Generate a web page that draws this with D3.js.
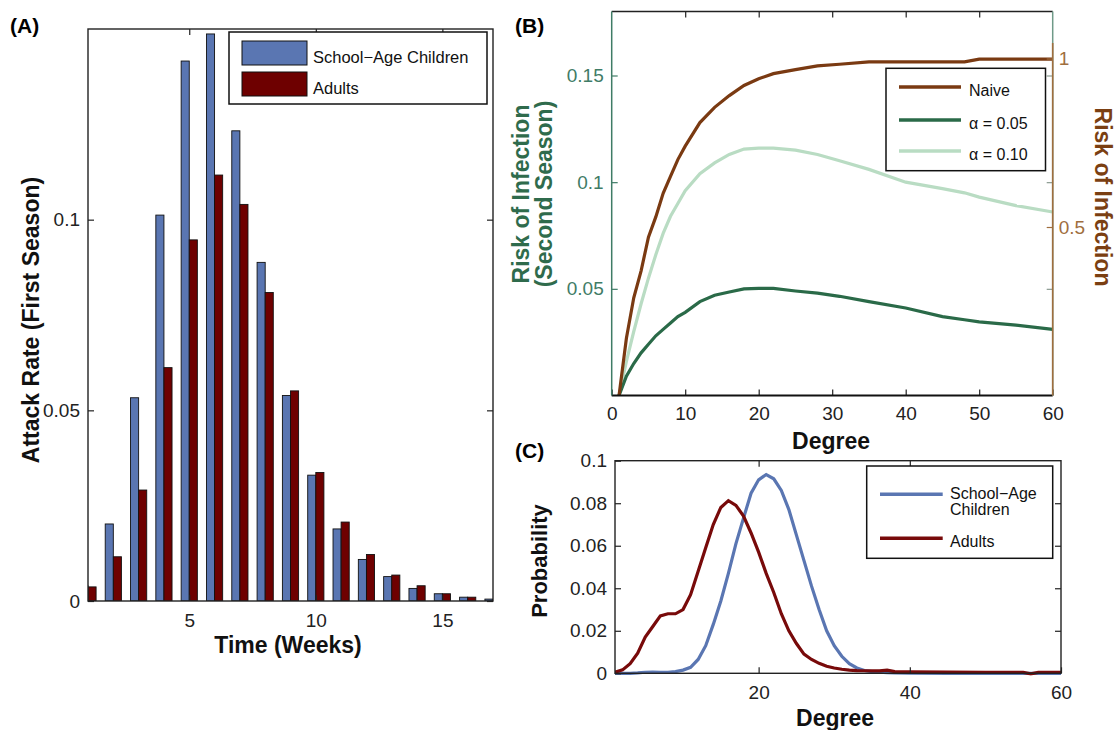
<!DOCTYPE html>
<html>
<head>
<meta charset="utf-8">
<script src="https://cdn.jsdelivr.net/npm/d3@7"></script>
<style>
  body { margin: 0; background: #fff; }
  svg { font-family: "Liberation Sans", Arial, sans-serif; }
</style>
</head>
<body>
<svg id="fig" width="1118" height="730"></svg>
<script>
// ---- data
// (A) weekly attack rate, first season
var weeks = [1, 2, 3, 4, 5, 6, 7, 8, 9, 10, 11, 12, 13, 14, 15, 16, 17];
var childRate = [0.004, 0.0202, 0.0533, 0.1012, 0.1416, 0.1487, 0.1233, 0.0888, 0.0539, 0.0330, 0.0189, 0.0109, 0.0064, 0.0033, 0.0019, 0.0010, 0.0005];
var adultRate = [0.0037, 0.0116, 0.0291, 0.0612, 0.0947, 0.1117, 0.1040, 0.0809, 0.0551, 0.0337, 0.0207, 0.0122, 0.0068, 0.0040, 0.0019, 0.0010, 0.0004];
var seriesA = ["School\u2212Age Children", "Adults"];

// (B) risk of infection vs degree
var degreeB = [1, 2, 3, 4, 5, 6, 7, 8, 9, 10, 12, 14, 16, 18, 20, 22, 25, 28, 31, 35, 40, 45, 48, 50, 55, 60];
var naiveRisk = [0, 0.17, 0.29, 0.37, 0.47, 0.53, 0.60, 0.65, 0.70, 0.74, 0.81, 0.855, 0.89, 0.92, 0.94, 0.955, 0.967, 0.978, 0.983, 0.99, 0.99, 0.99, 0.99, 0.998, 0.998, 0.998];
var alpha05Risk = [0, 0.009, 0.015, 0.020, 0.024, 0.028, 0.031, 0.034, 0.037, 0.039, 0.044, 0.047, 0.0485, 0.050, 0.0502, 0.0502, 0.049, 0.048, 0.0465, 0.044, 0.041, 0.037, 0.0355, 0.0345, 0.033, 0.031];
var alpha10Risk = [0, 0.016, 0.030, 0.043, 0.055, 0.066, 0.076, 0.084, 0.090, 0.096, 0.104, 0.109, 0.113, 0.1155, 0.116, 0.116, 0.115, 0.113, 0.110, 0.106, 0.100, 0.097, 0.095, 0.093, 0.089, 0.086];
var seriesB = ["Naive", "\u03b1 = 0.05", "\u03b1 = 0.10"];

// (C) degree distribution
var degreeC = [1, 2, 3, 4, 5, 6, 7, 8, 9, 10, 11, 12, 13, 14, 15, 16, 17, 18, 19, 20, 21, 22, 23, 24, 25, 26, 27, 28, 29, 30, 31, 32, 33, 34, 35, 36, 37, 38, 40, 45, 50, 55, 56, 57, 60];
var childProb = [0, 0, 0, 0.0002, 0.0005, 0.0006, 0.0005, 0.0005, 0.0008, 0.0015, 0.0028, 0.0065, 0.013, 0.023, 0.034, 0.047, 0.061, 0.073, 0.0847, 0.091, 0.0935, 0.0915, 0.086, 0.077, 0.065, 0.053, 0.041, 0.030, 0.020, 0.013, 0.008, 0.0045, 0.0025, 0.0013, 0.0008, 0.0005, 0.0003, 0.0002, 0.0001, 0, 0, 0, 0, 0, 0];
var adultProb = [0.0005, 0.0016, 0.0045, 0.0095, 0.017, 0.022, 0.027, 0.028, 0.028, 0.030, 0.037, 0.048, 0.059, 0.070, 0.078, 0.0812, 0.079, 0.074, 0.066, 0.057, 0.047, 0.038, 0.028, 0.020, 0.014, 0.009, 0.0065, 0.0047, 0.0033, 0.0025, 0.0019, 0.0015, 0.0013, 0.0012, 0.0011, 0.0011, 0.0015, 0.0008, 0.0007, 0.0006, 0.0005, 0.0004, -0.0003, 0.0004, 0.0005];
var seriesC = ["School\u2212Age", "Children", "Adults"];

var blue = "#5a76b2", darkRed = "#6e0000", lineRed = "#780a0a";
var brown = "#7a3a12", green05 = "#2a6a48", green10 = "#b9dcc3";
var axisGreen = "#3f7c66", axisBrown = "#a06e3e";
var ink = "#222";

var svg = d3.select("#fig");

// helper: style an axis generated by d3
function styleAxis(g, lineColor, textColor, size) {
  g.select(".domain").remove();
  g.attr("font-family", null).attr("font-size", null);
  g.selectAll("line").attr("stroke", lineColor).attr("stroke-width", 1.2);
  g.selectAll("text").attr("fill", textColor).style("font-size", size + "px");
}

function label(x, y, rot, txt, size, color) {
  svg.append("text")
    .attr("transform", "translate(" + x + "," + y + ") rotate(" + rot + ")")
    .attr("text-anchor", "middle").attr("dy", rot ? "0.35em" : 0)
    .style("font-size", size + "px").style("font-weight", "bold")
    .attr("fill", color || "#111").text(txt);
}

// ================= (A) =================
var ax = d3.scaleLinear().domain([1, 17]).range([88, 493]);
var ay = d3.scaleLinear().domain([0, 0.15]).range([601, 29]);
var barW = 0.32;

svg.append("clipPath").attr("id", "clipA").append("rect")
  .attr("x", 88).attr("y", 29).attr("width", 405).attr("height", 572);

var barsA = svg.append("g").attr("clip-path", "url(#clipA)");
barsA.selectAll(".c").data(weeks).enter().append("rect")
  .attr("x", d => ax(d - barW)).attr("width", d => ax(d) - ax(d - barW))
  .attr("y", (d, i) => ay(childRate[i])).attr("height", (d, i) => ay(0) - ay(childRate[i]))
  .attr("fill", blue).attr("stroke", "#111").attr("stroke-width", 0.9);
barsA.selectAll(".a").data(weeks).enter().append("rect")
  .attr("x", d => ax(d)).attr("width", d => ax(d + barW) - ax(d))
  .attr("y", (d, i) => ay(adultRate[i])).attr("height", (d, i) => ay(0) - ay(adultRate[i]))
  .attr("fill", darkRed).attr("stroke", "#111").attr("stroke-width", 0.9);

svg.append("g").attr("transform", "translate(0,601)")
  .call(d3.axisBottom(ax).tickValues([5, 10, 15]).tickSize(-6).tickSizeOuter(0).tickPadding(13))
  .call(g => styleAxis(g, ink, ink, 19));
svg.append("g").attr("transform", "translate(0,29)")
  .call(d3.axisTop(ax).tickValues([5, 10, 15]).tickSize(-6).tickSizeOuter(0).tickFormat(""))
  .call(g => styleAxis(g, ink, ink, 19));
svg.append("g").attr("transform", "translate(88,0)")
  .call(d3.axisLeft(ay).tickValues([0, 0.05, 0.1]).tickSize(-6).tickSizeOuter(0).tickPadding(8).tickFormat(d => String(d)))
  .call(g => styleAxis(g, ink, ink, 19));
svg.append("g").attr("transform", "translate(493,0)")
  .call(d3.axisRight(ay).tickValues([0, 0.05, 0.1]).tickSize(-6).tickSizeOuter(0).tickFormat(""))
  .call(g => styleAxis(g, ink, ink, 19));
svg.append("rect").attr("x", 88).attr("y", 29).attr("width", 405).attr("height", 572)
  .attr("fill", "none").attr("stroke", ink).attr("stroke-width", 1.4);

// legend A
var legA = svg.append("g");
legA.append("rect").attr("x", 229).attr("y", 32).attr("width", 258).attr("height", 72)
  .attr("fill", "#fff").attr("stroke", "#111").attr("stroke-width", 1.5);
[blue, darkRed].forEach(function (c, i) {
  legA.append("rect").attr("x", 242).attr("y", 41 + i * 31).attr("width", 65).attr("height", 24)
    .attr("fill", c).attr("stroke", "#111").attr("stroke-width", 1);
  legA.append("text").attr("x", 313).attr("y", 57 + i * 31).attr("dy", "0.35em")
    .style("font-size", "16.5px").attr("fill", "#111").text(seriesA[i]);
});

label(31, 320, -90, "Attack Rate (First Season)", 23);
label(288, 653, 0, "Time (Weeks)", 23);
svg.append("text").attr("x", 10).attr("y", 33).style("font-size", "21px").style("font-weight", "bold").text("(A)");

// ================= (B) =================
var bx = d3.scaleLinear().domain([0, 60]).range([611.7, 1052.7]);
var byL = d3.scaleLinear().domain([0, 0.18]).range([395.5, 11.5]);
var byR = d3.scaleLinear().domain([0, 1]).range([395.5, 58.5]);

svg.append("clipPath").attr("id", "clipB").append("rect")
  .attr("x", 611.7).attr("y", 11.5).attr("width", 441).attr("height", 384);

var gB = svg.append("g").attr("clip-path", "url(#clipB)");
var lineL = d3.line().x((d, i) => bx(degreeB[i])).y(d => byL(d));
var lineR = d3.line().x((d, i) => bx(degreeB[i])).y(d => byR(d));
gB.append("path").attr("d", lineL(alpha10Risk)).attr("fill", "none").attr("stroke", green10).attr("stroke-width", 3.2);
gB.append("path").attr("d", lineL(alpha05Risk)).attr("fill", "none").attr("stroke", green05).attr("stroke-width", 3.2);
gB.append("path").attr("d", lineR(naiveRisk)).attr("fill", "none").attr("stroke", brown).attr("stroke-width", 3.2);

svg.append("g").attr("transform", "translate(0,395.5)")
  .call(d3.axisBottom(bx).tickValues([0, 10, 20, 30, 40, 50, 60]).tickSize(-6).tickSizeOuter(0).tickPadding(11))
  .call(g => styleAxis(g, ink, ink, 19));
svg.append("g").attr("transform", "translate(0,11.5)")
  .call(d3.axisTop(bx).tickValues([10, 20, 30, 40, 50]).tickSize(-6).tickSizeOuter(0).tickFormat(""))
  .call(g => styleAxis(g, ink, ink, 19));
svg.append("g").attr("transform", "translate(611.7,0)")
  .call(d3.axisLeft(byL).tickValues([0.05, 0.1, 0.15]).tickSize(-6).tickSizeOuter(0).tickPadding(8).tickFormat(d => String(d)))
  .call(g => styleAxis(g, axisGreen, axisGreen, 19));
svg.append("g").attr("transform", "translate(1052.7,0)")
  .call(d3.axisRight(byL).tickValues([0.05, 0.1, 0.15]).tickSize(-6).tickSizeOuter(0).tickFormat(""))
  .call(g => styleAxis(g, "#8a9a90", ink, 19));
svg.append("g").attr("transform", "translate(1052.7,0)")
  .call(d3.axisRight(byR).tickValues([0.5, 1]).tickSize(-6).tickSizeOuter(0).tickPadding(6).tickFormat(d => String(d)))
  .call(g => styleAxis(g, axisBrown, axisBrown, 19));

// frame of (B): black top/bottom, green sides, brown right axis
svg.append("line").attr("x1", 611.7).attr("x2", 1052.7).attr("y1", 11.5).attr("y2", 11.5).attr("stroke", ink).attr("stroke-width", 1.3);
svg.append("line").attr("x1", 611.7).attr("x2", 1052.7).attr("y1", 395.5).attr("y2", 395.5).attr("stroke", "#111").attr("stroke-width", 2);
svg.append("line").attr("x1", 611.7).attr("x2", 611.7).attr("y1", 11.5).attr("y2", 395.5).attr("stroke", axisGreen).attr("stroke-width", 1.5);
svg.append("line").attr("x1", 1052.7).attr("x2", 1052.7).attr("y1", 11.5).attr("y2", 395.5).attr("stroke", "#6f9a88").attr("stroke-width", 1.5);
svg.append("line").attr("x1", 1052.7).attr("x2", 1052.7).attr("y1", 43).attr("y2", 395.5).attr("stroke", axisBrown).attr("stroke-width", 1.6);

// legend B
var legB = svg.append("g");
legB.append("rect").attr("x", 886).attr("y", 68.3).attr("width", 159.5).attr("height", 102.4)
  .attr("fill", "#fff").attr("stroke", "#111").attr("stroke-width", 1.5);
[brown, green05, green10].forEach(function (c, i) {
  var yy = [87, 120, 151][i];
  legB.append("line").attr("x1", 899).attr("x2", 961).attr("y1", yy).attr("y2", yy)
    .attr("stroke", c).attr("stroke-width", 3.5);
  legB.append("text").attr("x", 969).attr("y", yy + 4).attr("dy", "0.32em")
    .style("font-size", "16px").attr("fill", "#111").text(seriesB[i]);
});

label(521, 194, -90, "Risk of Infection", 23, "#2f6b4c");
label(544, 194, -90, "(Second Season)", 23, "#2f6b4c");
label(1103, 197, 90, "Risk of Infection", 23, "#7b3f12");
label(831, 449, 0, "Degree", 23);
svg.append("text").attr("x", 515).attr("y", 33).style("font-size", "21px").style("font-weight", "bold").text("(B)");

// ================= (C) =================
var cx = d3.scaleLinear().domain([1, 60]).range([615, 1061]);
var cy = d3.scaleLinear().domain([0, 0.1]).range([673.3, 460.7]);

svg.append("clipPath").attr("id", "clipC").append("rect")
  .attr("x", 615).attr("y", 460.7).attr("width", 446).attr("height", 215);
var gC = svg.append("g").attr("clip-path", "url(#clipC)");
var lineC = d3.line().x((d, i) => cx(degreeC[i])).y(d => cy(d));
gC.append("path").attr("d", lineC(childProb)).attr("fill", "none").attr("stroke", blue).attr("stroke-width", 3.2);
gC.append("path").attr("d", lineC(adultProb)).attr("fill", "none").attr("stroke", lineRed).attr("stroke-width", 3.2);

svg.append("g").attr("transform", "translate(0,673.3)")
  .call(d3.axisBottom(cx).tickValues([20, 40, 60]).tickSize(-6).tickSizeOuter(0).tickPadding(12))
  .call(g => styleAxis(g, ink, ink, 19));
svg.append("g").attr("transform", "translate(0,460.7)")
  .call(d3.axisTop(cx).tickValues([20, 40]).tickSize(-6).tickSizeOuter(0).tickFormat(""))
  .call(g => styleAxis(g, ink, ink, 19));
svg.append("g").attr("transform", "translate(615,0)")
  .call(d3.axisLeft(cy).tickValues([0, 0.02, 0.04, 0.06, 0.08, 0.1]).tickSize(-6).tickSizeOuter(0).tickPadding(8).tickFormat(d => String(d)))
  .call(g => styleAxis(g, ink, ink, 19));
svg.append("g").attr("transform", "translate(1061,0)")
  .call(d3.axisRight(cy).tickValues([0.02, 0.04, 0.06, 0.08]).tickSize(-6).tickSizeOuter(0).tickFormat(""))
  .call(g => styleAxis(g, ink, ink, 19));
svg.append("rect").attr("x", 615).attr("y", 460.7).attr("width", 446).attr("height", 212.6)
  .attr("fill", "none").attr("stroke", ink).attr("stroke-width", 1.4);

// legend C
var legC = svg.append("g");
legC.append("rect").attr("x", 866.7).attr("y", 466).attr("width", 186).attr("height", 92.3)
  .attr("fill", "#fff").attr("stroke", "#111").attr("stroke-width", 1.5);
legC.append("line").attr("x1", 880).attr("x2", 942.7).attr("y1", 494.3).attr("y2", 494.3).attr("stroke", blue).attr("stroke-width", 3.5);
legC.append("line").attr("x1", 880).attr("x2", 942.7).attr("y1", 538.3).attr("y2", 538.3).attr("stroke", lineRed).attr("stroke-width", 3.5);
[493, 509, 541.7].forEach(function (yy, i) {
  legC.append("text").attr("x", 950).attr("y", yy).attr("dy", "0.35em")
    .style("font-size", "16px").attr("fill", "#111").text(seriesC[i]);
});

label(539, 561, -90, "Probability", 22);
label(835, 726, 0, "Degree", 23);
svg.append("text").attr("x", 515).attr("y", 458).style("font-size", "21px").style("font-weight", "bold").text("(C)");
</script>
</body>
</html>
